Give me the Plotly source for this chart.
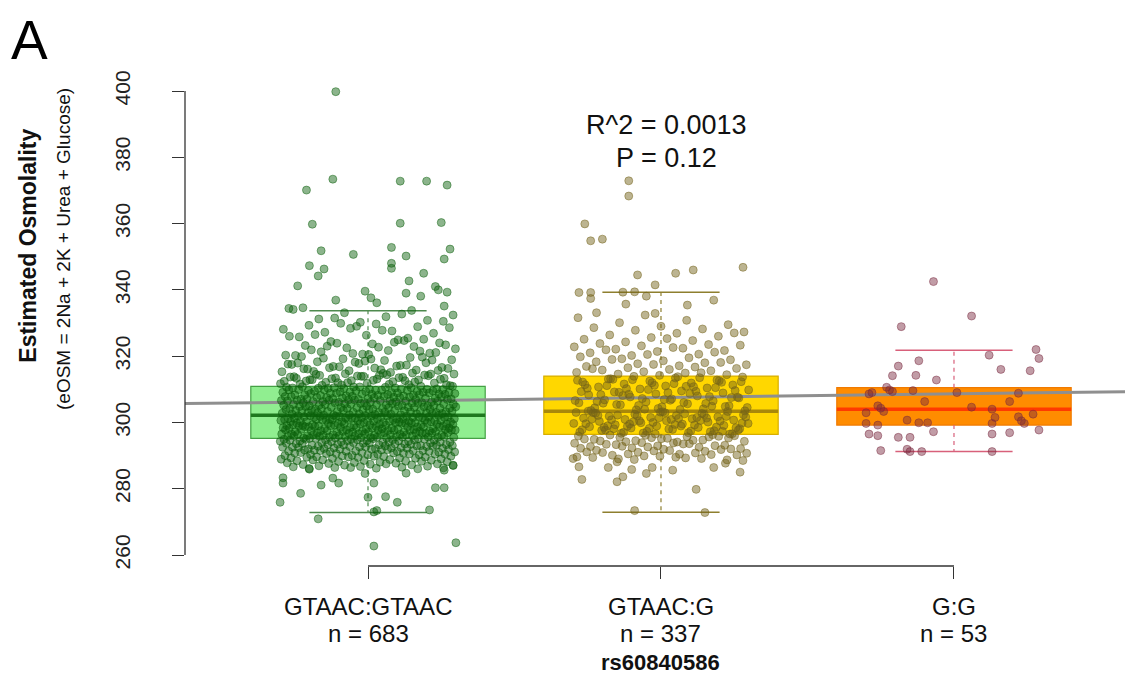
import numpy as np
import plotly.graph_objects as go

# ---------------- data ----------------
categories = ["GTAAC:GTAAC", "GTAAC:G", "G:G"]
counts = [683, 337, 53]
cat_pos = [1, 2, 3]

# box statistics
q1 = [295.2, 296.4, 299.2]
median = [302.2, 303.4, 304.0]
q3 = [310.9, 314.0, 310.5]
whisk_lo = [272.8, 272.9, 291.2]
whisk_hi = [333.7, 339.3, 321.8]

# regression line (fitted value = intercept + slope * genotype position)
reg_intercept = 305.28
reg_slope = 1.11

r2_text = "R^2 = 0.0013"
p_text = "P = 0.12"

# ---- group 1 (GTAAC:GTAAC): sparse points read individually ----
g1_sparse_y = [399.8, 373.4, 370.1, 372.8, 372.8, 371.6, 359.8, 360.1, 360.3, 351.8,
               350.7, 352.8, 350.2, 352.3, 349.3, 347.3, 346.3, 344.2, 348.0, 346.5,
               345.0, 342.7, 341.2, 341.0, 340.0, 339.3, 339.0, 338.1, 339.6, 337.6,
               336.1, 336.9, 335.1, 334.4,
               262.7, 263.7, 270.9, 273.0, 273.4, 273.6, 275.9, 278.6, 277.4, 275.9,
               277.6, 281.1, 280.3, 280.3, 281.7, 283.2, 281.7, 281.7, 283.3, 285.6,
               287.1, 284.7, 284.6, 285.9]
g1_sparse_dx = [-0.11, -0.12, -0.21, 0.11, 0.20, 0.27, -0.19, 0.11, 0.25, -0.16,
                -0.05, 0.08, 0.13, 0.28, 0.26, -0.20, -0.15, -0.17, 0.08, 0.08,
                0.19, 0.14, -0.24, 0.23, 0.24, 0.27, 0.13, 0.18, -0.01, 0.01,
                0.03, -0.11, 0.26, -0.27,
                0.02, 0.30, -0.17, 0.02, 0.03, 0.21, -0.30, -0.23, 0.00, 0.10,
                0.06, -0.16, 0.23, 0.26, -0.10, -0.12, 0.02, -0.29, -0.29, 0.26,
                0.29, 0.13, -0.01, -0.20]
# ---- group 1: dense core (estimated) ----
g1_core_y = [
    334.6, 333.8, 333.1, 332.4, 331.9, 331.2, 330.8, 330.2, 334.1, 332.7, 331.5, 330.5,
    329.7, 329.3, 328.9, 328.4, 328.1, 327.6, 327.2, 326.9, 326.3, 325.8, 325.4, 329.9,
    328.6, 327.8, 326.5, 325.1, 329.0, 326.0,
    324.9, 324.4, 324.0, 323.7, 323.2, 322.9, 322.5, 322.2, 321.7, 321.3, 320.9, 320.6,
    320.2, 324.7, 323.9, 323.4, 322.7, 321.9, 321.5, 320.8, 320.3, 324.2, 323.0, 321.1, 320.5,
    319.9, 319.6, 319.2, 318.9, 318.7, 318.3, 318.0, 317.8, 317.5, 317.2, 316.9, 316.6,
    316.4, 316.1, 315.8, 315.6, 315.3, 315.1, 319.4, 318.8, 318.5, 317.9, 317.3, 316.8,
    316.3, 315.9, 315.4, 319.7, 318.2, 317.6, 317.0, 316.5, 315.7, 319.1, 316.2,
    314.9, 314.7, 314.6, 314.4, 314.2, 314.1, 313.9, 313.8, 313.6, 313.4, 313.3, 313.1,
    312.9, 312.8, 312.6, 312.4, 312.3, 312.1, 311.9, 311.8, 311.6, 311.4, 311.3, 311.1,
    314.8, 314.5, 314.3, 314.0, 313.7, 313.5, 313.2, 313.0, 312.7, 312.5, 312.2, 312.0,
    311.7, 311.5, 311.2, 314.6, 313.9, 313.3, 312.6, 312.0, 311.4, 314.2, 312.9,
    310.9, 310.7, 310.6, 310.4, 310.3, 310.1, 310.0, 310.8, 310.5, 310.2, 310.9, 310.6,
    310.3, 310.0, 310.7, 310.4, 310.1, 310.5,
    309.9, 309.7, 309.6, 309.4, 309.2, 309.1, 309.0, 309.8, 309.5, 309.3, 309.9, 309.6,
    309.2, 309.0, 309.7, 309.4, 309.1, 309.5, 309.8,
    308.9, 308.8, 308.6, 308.5, 308.3, 308.2, 308.0, 308.7, 308.4, 308.1, 308.9, 308.6,
    308.3, 308.0, 308.8, 308.5, 308.2, 308.7, 308.4,
    307.9, 307.8, 307.6, 307.5, 307.3, 307.2, 307.0, 307.7, 307.4, 307.1, 307.9, 307.6,
    307.3, 307.0, 307.8, 307.5, 307.2, 307.7, 307.4, 307.1,
    306.9, 306.8, 306.6, 306.5, 306.3, 306.2, 306.0, 306.7, 306.4, 306.1, 306.9, 306.6,
    306.3, 306.0, 306.8, 306.5, 306.2, 306.7, 306.4, 306.1,
    305.9, 305.8, 305.6, 305.5, 305.3, 305.2, 305.0, 305.7, 305.4, 305.1, 305.9, 305.6,
    305.3, 305.0, 305.8, 305.5, 305.2, 305.7, 305.4, 305.1,
    304.9, 304.8, 304.6, 304.5, 304.3, 304.2, 304.0, 304.7, 304.4, 304.1, 304.9, 304.6,
    304.3, 304.0, 304.8, 304.5, 304.2, 304.7, 304.4, 304.1,
    303.9, 303.8, 303.6, 303.5, 303.3, 303.2, 303.0, 303.7, 303.4, 303.1, 303.9, 303.6,
    303.3, 303.0, 303.8, 303.5, 303.2, 303.7, 303.4, 303.1,
    302.9, 302.8, 302.6, 302.5, 302.3, 302.2, 302.7, 302.4, 302.9, 302.6, 302.3, 302.8,
    302.5, 302.2, 302.7,
    302.1, 302.0, 301.9, 301.8, 301.7, 301.6, 301.5, 301.4, 301.3, 301.2, 301.1, 301.0,
    302.1, 301.9, 301.7, 301.5, 301.3, 301.1, 302.0, 301.8, 301.6, 301.4, 301.2, 301.0,
    301.9, 301.5, 301.1, 302.0, 301.6, 301.3,
    300.9, 300.8, 300.7, 300.6, 300.5, 300.4, 300.3, 300.2, 300.1, 300.0, 300.9, 300.7,
    300.5, 300.3, 300.1, 300.8, 300.6, 300.4, 300.2, 300.0, 300.9, 300.6, 300.3, 300.7, 300.2,
    299.9, 299.8, 299.7, 299.6, 299.5, 299.4, 299.3, 299.2, 299.1, 299.0, 299.9, 299.7,
    299.5, 299.3, 299.1, 299.8, 299.6, 299.4, 299.2, 299.0, 299.9, 299.6, 299.3, 299.7, 299.2,
    298.9, 298.8, 298.7, 298.6, 298.5, 298.4, 298.3, 298.2, 298.1, 298.0, 298.9, 298.7,
    298.5, 298.3, 298.1, 298.8, 298.6, 298.4, 298.2, 298.0, 298.9, 298.6, 298.3, 298.7,
    297.9, 297.8, 297.7, 297.6, 297.5, 297.4, 297.3, 297.2, 297.1, 297.0, 297.9, 297.7,
    297.5, 297.3, 297.1, 297.8, 297.6, 297.4, 297.2, 297.0, 297.9, 297.6, 297.3, 297.7,
    296.9, 296.8, 296.7, 296.6, 296.5, 296.4, 296.3, 296.2, 296.1, 296.0, 296.9, 296.7,
    296.5, 296.3, 296.1, 296.8, 296.6, 296.4, 296.2, 296.0, 296.9, 296.6, 296.3, 296.7,
    295.9, 295.8, 295.7, 295.6, 295.5, 295.4, 295.3, 295.9, 295.7, 295.5, 295.3, 295.8,
    295.6, 295.4, 295.9, 295.6, 295.3, 295.7, 295.5,
    295.2, 295.1, 295.0, 294.9, 294.8, 294.7, 294.6, 294.5, 294.4, 294.3, 294.2, 294.1,
    294.0, 295.2, 295.0, 294.8, 294.6, 294.4, 294.2, 294.0, 295.1, 294.9, 294.7, 294.5,
    294.3, 294.1,
    293.9, 293.8, 293.7, 293.6, 293.5, 293.4, 293.3, 293.2, 293.1, 293.0, 293.9, 293.7,
    293.5, 293.3, 293.1, 293.8, 293.6, 293.4, 293.2, 293.0,
    292.9, 292.8, 292.7, 292.6, 292.5, 292.4, 292.3, 292.2, 292.1, 292.0, 292.9, 292.7,
    292.5, 292.3, 292.1, 292.8, 292.6, 292.4, 292.2,
    291.9, 291.8, 291.7, 291.6, 291.5, 291.4, 291.3, 291.2, 291.1, 291.0, 291.9, 291.7,
    291.5, 291.3, 291.1, 291.8, 291.5, 291.2,
    290.9, 290.8, 290.7, 290.6, 290.5, 290.4, 290.3, 290.2, 290.1, 290.0, 290.8, 290.6,
    290.4, 290.2, 290.9, 290.5,
    289.9, 289.8, 289.7, 289.6, 289.5, 289.4, 289.3, 289.2, 289.1, 289.0, 289.8, 289.5,
    289.2, 289.6,
    288.9, 288.8, 288.7, 288.6, 288.5, 288.4, 288.3, 288.2, 288.1, 288.0, 288.7, 288.3,
    287.9, 287.8, 287.7, 287.6, 287.5, 287.4, 287.3, 287.2, 287.1, 287.0, 287.5,
    286.9, 286.8, 286.7, 286.6, 286.5, 286.4, 286.3, 286.2, 286.1, 286.0, 286.4,
]

# ---- group 2 (GTAAC:G) ----
g2_sparse_y = [372.9, 368.3, 359.9, 354.8, 355.3, 346.8, 346.0, 345.0, 344.5, 341.5,
               339.2, 339.2, 339.3, 339.4, 338.1, 336.9, 337.4, 335.4, 333.1, 332.9, 335.7,
               273.4, 272.8, 279.8, 282.8, 282.1, 283.6, 285.0, 284.6, 286.4, 286.4,
               288.1, 285.8, 285.6, 286.4, 287.7, 286.6, 289.1]
g2_sparse_dx = [-0.11, -0.11, -0.26, -0.24, -0.20, 0.28, 0.11, 0.05, -0.08, -0.02,
                -0.28, -0.24, -0.13, -0.09, -0.05, 0.18, -0.24, 0.09, -0.22, -0.02, -0.12,
                -0.09, 0.15, 0.12, -0.27, -0.15, -0.13, 0.27, -0.05, -0.03, -0.18,
                -0.15, -0.10, 0.04, 0.18, 0.22, -0.28, -0.30]
g2_core_y = [
    332.4, 331.6, 330.8, 330.1, 329.5, 329.0, 328.6, 328.2,
    327.8, 327.3, 326.9, 326.4, 326.0, 325.6, 325.1, 324.7, 324.3, 327.0, 325.3,
    323.8, 323.5, 323.1, 322.8, 322.4, 322.1, 321.7, 321.4, 321.0, 320.6, 320.2, 323.3,
    322.6, 321.9, 321.2, 320.5,
    319.8, 319.5, 319.2, 318.9, 318.6, 318.3, 318.0, 317.7, 317.4, 317.1, 319.0, 318.1, 317.5,
    316.9, 316.7, 316.5, 316.3, 316.0, 315.8, 315.6, 315.3, 315.1, 314.9, 314.6, 314.4,
    314.2, 316.2, 315.0,
    313.9, 313.7, 313.4, 313.1, 312.8, 312.5, 312.2, 311.9, 311.6, 311.3, 311.0, 310.7,
    310.4, 310.1, 309.8, 309.5, 309.2, 308.9, 308.6, 308.3, 308.0, 307.7, 307.4, 307.1,
    306.8, 306.5, 306.2, 305.9, 305.6, 305.3, 305.0, 304.7, 304.4, 304.1, 303.8, 303.5,
    313.8, 313.2, 312.6, 312.0, 311.4, 310.8, 310.2, 309.6, 309.0, 308.4, 307.8, 307.2,
    306.6, 306.0, 305.4, 304.8, 304.2, 303.6,
    313.5, 312.9, 312.3, 311.7, 311.1, 310.5, 309.9, 309.3, 308.7, 308.1, 307.5, 306.9,
    306.3, 305.7, 305.1, 304.5, 303.9,
    313.0, 312.1, 311.2, 310.3, 309.4, 308.5, 307.6, 306.7, 305.8, 304.9, 304.0, 312.7,
    310.9, 309.1,
    303.3, 303.1, 302.9, 302.7, 302.5, 302.3, 302.1, 301.9, 301.7, 301.5, 301.3, 301.1,
    300.9, 300.7, 300.5, 300.3, 300.1, 299.9, 299.7, 299.5, 299.3, 299.1, 298.9, 298.7,
    298.5, 298.3, 298.1, 297.9, 297.7, 297.5, 297.3, 297.1, 296.9, 296.7, 296.5,
    303.2, 302.8, 302.4, 302.0, 301.6, 301.2, 300.8, 300.4, 300.0, 299.6, 299.2, 298.8,
    298.4, 298.0, 297.6, 297.2, 296.8,
    303.0, 302.6, 302.2, 301.8, 301.4, 301.0, 300.6, 300.2, 299.8, 299.4, 299.0, 298.6,
    298.2, 297.8, 297.4, 297.0, 296.6,
    302.9, 302.1, 301.3, 300.5, 299.7, 298.9, 298.1, 297.3, 296.5, 303.4, 301.5, 299.5,
    297.7, 300.9, 298.5,
    296.3, 296.1, 295.9, 295.7, 295.5, 295.3, 295.1, 294.9, 294.7, 294.5, 294.3, 294.1,
    296.2, 295.8, 295.4, 295.0, 294.6, 294.2, 296.0, 295.2, 294.4, 295.6,
    293.9, 293.7, 293.5, 293.3, 293.1, 292.9, 292.7, 292.5, 292.3, 292.1, 293.8, 293.4,
    293.0, 292.6, 292.2, 293.6, 292.8, 292.0,
    291.9, 291.6, 291.3, 291.0, 290.7, 290.4, 290.1, 291.8, 291.4, 291.1, 290.8, 290.5,
    290.2, 291.5, 290.9, 290.3,
    289.9, 289.6, 289.3, 289.0, 288.7, 289.8, 289.4, 289.1, 288.8, 288.5, 289.5,
]

# ---- group 3 (G:G): every point read individually ----
g3_y = [342.5, 332.1, 328.9, 322.0, 319.3, 320.3, 317.0, 318.6, 316.0, 315.6,
        314.1, 314.2, 312.8, 310.6, 308.6, 309.0, 309.3, 309.8, 309.6, 309.0,
        308.8, 306.3, 306.3, 305.0, 304.3, 303.3, 302.9, 304.6, 304.0, 301.5,
        301.7, 300.5, 299.7, 302.5, 300.7, 299.7, 299.2, 299.9, 299.9, 299.7,
        297.2, 296.5, 296.0, 295.5, 295.5, 296.5, 296.9, 297.7, 291.5, 291.9,
        291.2, 291.2, 291.2]
g3_dx = [-0.07, 0.06, -0.18, 0.28, 0.29, 0.12, -0.19, -0.12, 0.16, 0.26,
         -0.21, -0.13, -0.06, -0.23, -0.29, -0.28, -0.21, -0.22, -0.14, 0.01,
         0.22, -0.10, 0.19, -0.26, -0.25, -0.24, -0.30, 0.06, 0.13, 0.14,
         0.22, 0.23, 0.24, 0.27, -0.16, -0.30, -0.26, -0.12, -0.09, 0.13,
         -0.07, -0.29, -0.26, -0.19, -0.15, 0.13, 0.19, 0.29, -0.25, -0.16,
         -0.15, -0.11, 0.13]

# ---------------- styling ----------------
FONT = "Liberation Sans, Arial, Helvetica, sans-serif"
box_fill = ["#90EE90", "#FFD700", "#FF8C00"]
box_line = ["#45A045", "#D8AE00", "#F07A00"]
median_col = ["#1E781E", "#A8880A", "#FF3A00"]
whisk_col = ["#4E8A4E", "#8E7F2E", "#D8607A"]
pt_col = ["rgba(10,95,10,0.47)", "rgba(115,98,25,0.48)", "rgba(120,40,62,0.46)"]
JIT = 0.60
BOXW = 0.8
CAPW = 0.4

X_RANGE = [0.3754, 3.611]
Y_RANGE = [256.68, 405.43]


def spread(n, phase):
    """deterministic horizontal jitter positions (layout only)"""
    k = np.arange(n)
    return ((k * 0.6180339887 + phase) % 1.0 - 0.5) * JIT


fig = go.Figure()

# boxes
for i, c in enumerate(cat_pos):
    fig.add_trace(go.Box(
        x=[c], q1=[q1[i]], median=[median[i]], q3=[q3[i]],
        lowerfence=[q1[i]], upperfence=[q3[i]],
        width=BOXW, fillcolor=box_fill[i],
        line=dict(color=box_line[i], width=1.2),
        whiskerwidth=0, boxpoints=False, hoverinfo="skip",
    ))
    # dashed whiskers
    fig.add_trace(go.Scatter(x=[c, c, None, c, c],
                             y=[q3[i], whisk_hi[i], None, q1[i], whisk_lo[i]],
                             mode="lines", line=dict(color=whisk_col[i], width=1.2, dash="4px,4px"),
                             hoverinfo="skip"))
    # staples
    fig.add_trace(go.Scatter(x=[c - CAPW / 2, c + CAPW / 2, None, c - CAPW / 2, c + CAPW / 2],
                             y=[whisk_hi[i], whisk_hi[i], None, whisk_lo[i], whisk_lo[i]],
                             mode="lines", line=dict(color=whisk_col[i], width=1.5),
                             hoverinfo="skip"))
    # median
    fig.add_trace(go.Scatter(x=[c - BOXW / 2, c + BOXW / 2], y=[median[i], median[i]],
                             mode="lines", line=dict(color=median_col[i], width=3.5),
                             hoverinfo="skip"))

# regression line across the whole plot
fig.add_trace(go.Scatter(x=X_RANGE,
                         y=[reg_intercept + reg_slope * X_RANGE[0], reg_intercept + reg_slope * X_RANGE[1]],
                         mode="lines", line=dict(color="#8f8f8f", width=3), hoverinfo="skip"))

# points
groups = [
    (g1_sparse_y, g1_sparse_dx, g1_core_y, 0.13),
    (g2_sparse_y, g2_sparse_dx, g2_core_y, 0.41),
    ([], [], [], 0.0),
]
for i, (sy, sdx, cy, ph) in enumerate(groups):
    if i < 2:
        xs = list(cat_pos[i] + np.array(sdx)) + list(cat_pos[i] + spread(len(cy), ph))
        ys = list(sy) + list(cy)
    else:
        xs = list(cat_pos[i] + np.array(g3_dx))
        ys = list(g3_y)
    fig.add_trace(go.Scatter(
        x=xs, y=ys, mode="markers",
        marker=dict(size=8, color=pt_col[i], line=dict(color=pt_col[i], width=1)),
        hoverinfo="skip",
    ))

# axes lines in R style (from first to last tick only)
fig.add_shape(type="line", xref="paper", yref="y", x0=0, x1=0, y0=260, y1=400,
              line=dict(color="#333333", width=1.3))
fig.add_shape(type="line", xref="x", yref="paper", x0=cat_pos[0], x1=cat_pos[-1], y0=0, y1=0,
              line=dict(color="#333333", width=1.3))

annotations = []
# category labels
for i, c in enumerate(cat_pos):
    annotations.append(dict(x=c, xref="x", y=-0.083, yref="paper", text=categories[i],
                            showarrow=False, font=dict(size=24, color="#111", family=FONT),
                            xanchor="center", yanchor="middle"))
    annotations.append(dict(x=c, xref="x", y=-0.136, yref="paper", text=f"n = {counts[i]}",
                            showarrow=False, font=dict(size=24, color="#111", family=FONT),
                            xanchor="center", yanchor="middle"))
annotations.append(dict(x=2, xref="x", y=-0.195, yref="paper", text="<b>rs60840586</b>",
                        showarrow=False, font=dict(size=22, color="#111", family=FONT),
                        xanchor="center", yanchor="middle"))
# stats text
annotations.append(dict(x=2.02, xref="x", y=389.7, yref="y", text=r2_text, showarrow=False,
                        font=dict(size=27, color="#111", family=FONT), xanchor="center", yanchor="middle"))
annotations.append(dict(x=2.02, xref="x", y=379.8, yref="y", text=p_text, showarrow=False,
                        font=dict(size=27, color="#111", family=FONT), xanchor="center", yanchor="middle"))
# y titles
annotations.append(dict(x=-0.166, xref="paper", y=0.649, yref="paper", text="<b>Estimated Osmolality</b>",
                        textangle=-90, showarrow=False, font=dict(size=23, color="#111", family=FONT),
                        xanchor="center", yanchor="middle"))
annotations.append(dict(x=-0.1287, xref="paper", y=0.643, yref="paper",
                        text="(eOSM = 2Na + 2K + Urea + Glucose)",
                        textangle=-90, showarrow=False, font=dict(size=19, color="#111", family=FONT),
                        xanchor="center", yanchor="middle"))
# panel letter (anchored to the top of the figure so it is not clipped)
annotations.append(dict(x=-0.1637, xref="paper", y=1.131, yref="paper", text="A",
                        showarrow=False, font=dict(size=55, color="#000", family=FONT),
                        xanchor="center", yanchor="top", borderpad=0))

# the page adds an 8px body margin; margins are set so the plot area lands where the reference has it
fig.update_layout(
    width=1125, height=678,
    margin=dict(l=177, r=0, t=65, b=120),
    paper_bgcolor="white", plot_bgcolor="white",
    showlegend=False, boxmode="overlay",
    annotations=annotations,
    xaxis=dict(range=X_RANGE, tickvals=cat_pos, ticktext=["", "", ""], ticks="outside",
               ticklen=12, tickwidth=1.2, tickcolor="#333", showgrid=False, zeroline=False,
               showline=False, showticklabels=False),
    yaxis=dict(range=Y_RANGE, tickvals=[260, 280, 300, 320, 340, 360, 380, 400],
               ticks="outside", ticklen=12, tickwidth=1.2, tickcolor="#333",
               tickangle=-90, tickfont=dict(size=21, color="#222", family=FONT),
               ticklabelstandoff=34,
               showgrid=False, zeroline=False, showline=False),
)

fig.write_html("out.html")
